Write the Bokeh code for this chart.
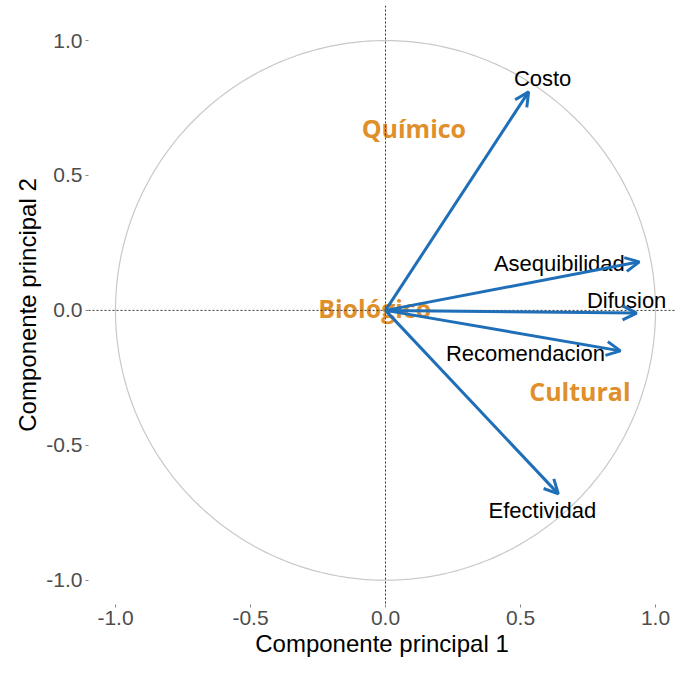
import numpy as np
from bokeh.plotting import figure
from bokeh.models import ColumnDataSource, Arrow, OpenHead, Span, FixedTicker, CustomJSTickFormatter
from bokeh.core.properties import value
from bokeh.embed import file_html
from bokeh.resources import INLINE

# Variables (loadings on PC1 / PC2)
variables = ["Costo", "Asequibilidad", "Difusion", "Recomendacion", "Efectividad"]
pc1 = [0.53, 0.94, 0.93, 0.87, 0.64]
pc2 = [0.81, 0.18, -0.01, -0.15, -0.68]

# Group labels
groups = ["Químico", "Biológico", "Cultural"]
group_x = [0.105, -0.04, 0.72]
group_y = [0.675, 0.01, -0.30]

ticks = [-1.0, -0.5, 0.0, 0.5, 1.0]

# label offsets (screen px) relative to arrow tips
lab_dx = [14, -80, -10, -95, -16]
lab_dy = [-13, 2, -13, 3, 17]

BLUE = "#1f6fb8"
ORANGE = "#e08f2a"

p = figure(width=675, height=659, output_backend="svg", toolbar_location=None,
           x_range=(-1.10, 1.074), y_range=(-1.09, 1.13),
           min_border_left=88, min_border_right=0, min_border_top=5, min_border_bottom=50)
p.outline_line_color = None
p.xgrid.visible = False
p.ygrid.visible = False
p.background_fill_color = "white"

fmt = CustomJSTickFormatter(code="return tick.toFixed(1);")
for ax in (p.xaxis, p.yaxis):
    ax.ticker = FixedTicker(ticks=ticks)
    ax.formatter = fmt
    ax.axis_line_color = None
    ax.major_tick_line_color = "#888888"
    ax.major_tick_in = 0
    ax.major_tick_out = 3
    ax.minor_tick_line_color = None
    ax.major_label_text_font = "Liberation Sans"
    ax.major_label_text_font_size = "21px"
    ax.major_label_text_color = "#4d4d4d"
    ax.axis_label_text_font = "Liberation Sans"
    ax.axis_label_text_font_size = "24px"
    ax.axis_label_text_font_style = "normal"
    ax.axis_label_text_color = "black"
    ax.major_label_standoff = 3
    ax.axis_label_standoff = 2

p.xaxis.axis_label = "Componente principal 1"
p.yaxis.axis_label = "Componente principal 2"

# unit circle
theta = np.linspace(0, 2 * np.pi, 400)
p.line(np.cos(theta), np.sin(theta), line_color="#c8c8c8", line_width=1.2)

# reference lines
p.add_layout(Span(location=0, dimension="width", line_color="#333333", line_dash="2 2", line_width=1))
p.add_layout(Span(location=0, dimension="height", line_color="#333333", line_dash="2 2", line_width=1))

# group labels
gsrc = ColumnDataSource(dict(x=group_x, y=group_y, t=groups))
p.text("x", "y", text="t", source=gsrc, text_font=value("Open Sans"), text_font_style="bold",
       text_font_size="25px", text_color=ORANGE, text_align="center", text_baseline="middle")

# arrows
src = ColumnDataSource(dict(x0=[0.0] * len(pc1), y0=[0.0] * len(pc1), x=pc1, y=pc2,
                            t=variables, dx=lab_dx, dy=lab_dy))
p.add_layout(Arrow(end=OpenHead(size=14, line_color=BLUE, line_width=3),
                   x_start="x0", y_start="y0", x_end="x", y_end="y", source=src,
                   line_color=BLUE, line_width=3))

p.text("x", "y", text="t", source=src, x_offset="dx", y_offset="dy",
       text_font=value("Liberation Sans"), text_font_size="22px", text_color="black",
       text_align="center", text_baseline="middle")

open("out.html", "w").write(file_html(p, INLINE))
